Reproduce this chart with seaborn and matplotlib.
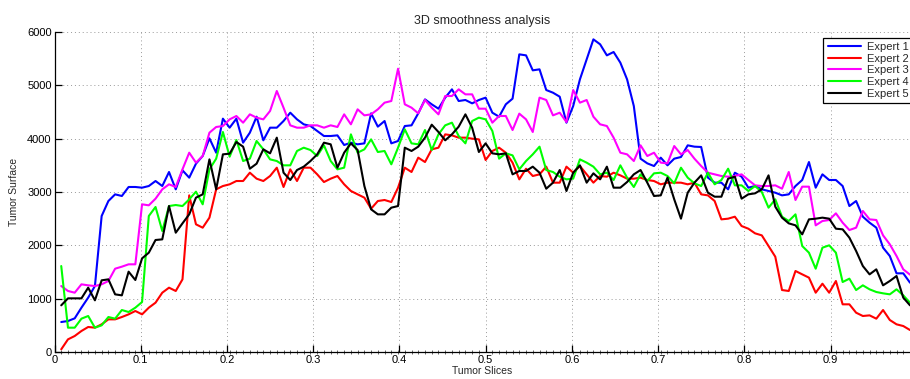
import numpy as np
import pandas as pd
import matplotlib
matplotlib.use("Agg")
import matplotlib.pyplot as plt
import seaborn as sns

# slice index 1..127, shown as fraction of 128 slices
slice_idx = np.arange(1, 128)
n_slices = 128

expert1 = [562, 581, 631, 831, 1019, 1237, 2550, 2831, 2956, 2925, 3094, 3094, 3081, 3112, 3206, 3112,
           3375, 3050, 3406, 3269, 3531, 3675, 4006, 3737,
           4375, 4206, 4375, 3925, 4112, 4412, 3969, 4206, 4206, 4331, 4487, 4362, 4269, 4237, 4144, 4050,
           4050, 4062, 3881, 3925, 3894, 3912, 4475, 4225, 4331, 3912, 3956,
           4237, 4250, 4475, 4737, 4644, 4562, 4769, 4925, 4706, 4725, 4662, 4725, 4769, 4487, 4412, 4644,
           4750, 5581, 5562, 5281, 5300, 4912, 4862, 4787, 4300,
           4612, 5112, 5487, 5862, 5769, 5562, 5625, 5425, 5112, 4612, 3625, 3537, 3487, 3644, 3500, 3625,
           3656, 3875, 3850, 3844, 3269, 3175, 3175, 3050, 3362,
           3287, 3081, 3112, 3050, 3019, 2987, 2937, 2956, 3112, 3225, 3562, 3081, 3331, 3225, 3225, 3112,
           2737, 2831, 2537, 2425, 2331, 1956, 1800, 1475, 1475, 1300]

expert2 = [50, 237, 300, 394, 469, 456, 519, 612, 612, 656, 706, 769, 706, 831, 925, 1112, 1206, 1144,
           1362, 2937, 2394, 2331, 2519, 3050,
           3112, 3144, 3206, 3206, 3362, 3250, 3206, 3300, 3456, 3094, 3425, 3206, 3456, 3456, 3331, 3187,
           3250, 3300, 3144, 3019, 2956, 2894, 2687, 2831, 2850, 2812, 3081,
           3456, 3375, 3644, 3562, 3800, 3831, 4081, 4062, 4019, 4019, 4000, 3987, 3600, 3769, 3831, 3737,
           3550, 3237, 3437, 3300, 3331, 3475, 3175, 3175, 3475,
           3362, 3487, 3331, 3175, 3300, 3287, 3362, 3312, 3250, 3250, 3269, 3225, 3206, 3144, 3175, 3175,
           3175, 3144, 3175, 2956, 2937, 2831, 2487, 2500, 2537,
           2362, 2312, 2225, 2187, 1987, 1787, 1162, 1144, 1519, 1456, 1394, 1112, 1281, 1112, 1331, 894,
           894, 737, 675, 687, 625, 787, 600, 519, 487, 412]

expert3 = [1237, 1144, 1112, 1269, 1250, 1237, 1269, 1331, 1562, 1600, 1644, 1644, 2769, 2750, 2875, 3050,
           3144, 3094, 3425, 3737, 3550, 3675, 4112, 4219,
           4237, 4362, 4425, 4300, 4456, 4394, 4362, 4519, 4894, 4581, 4250, 4206, 4206, 4250, 4250, 4206,
           4250, 4219, 4456, 4269, 4550, 4437, 4456, 4550, 4675, 4706, 5312,
           4644, 4581, 4475, 4725, 4581, 4456, 4800, 4800, 4925, 4831, 4831, 4562, 4562, 4300, 4425, 4425,
           4162, 4469, 4362, 4125, 4769, 4725, 4437, 4487, 4312,
           4912, 4675, 4725, 4412, 4269, 4237, 4019, 3737, 3706, 3581, 3875, 3675, 3737, 3550, 3537, 3862,
           3706, 3787, 3625, 3487, 3362, 3331, 3300, 3287, 3300,
           3331, 3225, 3125, 3112, 3112, 3125, 3062, 3375, 2850, 3100, 3100, 2375, 2456, 2475, 2600, 2425,
           2287, 2331, 2644, 2487, 2475, 2187, 2019, 1800, 1550, 1450]

expert4 = [1612, 456, 456, 625, 675, 456, 500, 656, 625, 787, 750, 831, 937, 2550, 2719, 2269, 2737, 2756,
           2737, 2862, 3006, 2769, 3425, 3625,
           4125, 3662, 3975, 3581, 3625, 3956, 3800, 3612, 3581, 3500, 3500, 3769, 3831, 3787, 3675, 3875,
           3581, 3425, 3456, 4081, 3737, 3800, 3987, 3750, 3769, 3519, 3831,
           4175, 3912, 3894, 4162, 3787, 4081, 4250, 4300, 4050, 3912, 4331, 4394, 4362, 4144, 3625, 3725,
           3687, 3425, 3581, 3706, 3850, 3412, 3375, 3287, 3237,
           3250, 3612, 3550, 3475, 3331, 3362, 3225, 3500, 3269, 3094, 3331, 3206, 3350, 3362, 3300, 3162,
           3456, 3269, 3162, 3112, 3362, 3144, 3225, 3437, 3125,
           3125, 3019, 3112, 3000, 2706, 2862, 2537, 2456, 2581, 1987, 1862, 1562, 1956, 2000, 1862, 1312,
           1375, 1162, 1250, 1175, 1125, 1100, 1081, 1175, 1062, 925]

expert5 = [875, 1006, 1006, 1006, 1206, 969, 1344, 1362, 1081, 1062, 1506, 1350, 1756, 1862, 2100, 2112,
           2737, 2237, 2412, 2581, 2894, 2956, 3612, 3050,
           3706, 3719, 3937, 3850, 3437, 3531, 3800, 3725, 4019, 3362, 3225, 3412, 3475, 3581, 3706, 3925,
           3894, 3456, 3737, 3912, 3787, 3112, 2675, 2581, 2581, 2706, 2737,
           3831, 3769, 3850, 4019, 4262, 4125, 3969, 4081, 4225, 4456, 4206, 3750, 3912, 3725, 3706, 3725,
           3331, 3394, 3394, 3475, 3362, 3062, 3175, 3412, 3019,
           3362, 3500, 3175, 3350, 3237, 3475, 3081, 3081, 3187, 3331, 3412, 3175, 2925, 2937, 3269, 2862,
           2500, 2987, 3175, 3312, 2987, 2912, 2912, 3250, 3287,
           2875, 2956, 2975, 3050, 3312, 2725, 2519, 2412, 2375, 2206, 2487, 2500, 2519, 2500, 2312, 2300,
           2144, 1894, 1612, 1456, 1550, 1250, 1331, 1425, 1019, 875]

experts = ["Expert 1", "Expert 2", "Expert 3", "Expert 4", "Expert 5"]
colors = ["#0000ff", "#ff0000", "#ff00ff", "#00ff00", "#000000"]

x = slice_idx / n_slices
df = pd.concat([pd.DataFrame({"slice": x, "surface": vals, "expert": name})
                for name, vals in zip(experts, [expert1, expert2, expert3, expert4, expert5])])

sns.set_style("ticks")
plt.rcParams["font.family"] = ["Liberation Sans", "DejaVu Sans"]

fig = plt.figure(figsize=(9.1, 3.79), dpi=100)
ax = fig.add_axes([54.5 / 910, 27 / 379, 855.5 / 910, 320 / 379])

sns.lineplot(data=df, x="slice", y="surface", hue="expert", palette=colors,
             linewidth=1.5, ax=ax, legend=True)

ax.set_xlim(0, 127 / 128)
ax.set_ylim(0, 6000)
ax.set_xticks(np.arange(0, 1.0, 0.1))
ax.set_xticklabels(["0"] + [f"{v:.1f}" for v in np.arange(0.1, 1.0, 0.1)])
ax.set_yticks(np.arange(0, 6001, 1000))
ax.set_xticks(x, minor=True)
ax.tick_params(axis="both", which="major", direction="in", length=5, width=0.9,
               labelsize=8, pad=2, colors="black")
ax.tick_params(axis="x", which="minor", direction="inout", length=3, width=0.7, color="#666666")
ax.grid(True, which="major", linestyle=(0, (1, 3)), color="#999999", linewidth=0.7)

for side in ["top", "right"]:
    ax.spines[side].set_visible(False)
for side in ["left", "bottom"]:
    ax.spines[side].set_linewidth(0.9)
    ax.spines[side].set_color("black")

ax.set_title("3D smoothness analysis", fontsize=9, pad=6)
ax.set_xlabel("Tumor Slices", fontsize=7.5, labelpad=1)
ax.set_ylabel("Tumor Surface", fontsize=7.5, labelpad=6)

leg = ax.legend(loc="upper right", bbox_to_anchor=(1.01, 1.0), fontsize=8, frameon=True,
                fancybox=False, framealpha=1, edgecolor="black", handlelength=3.0,
                labelspacing=0.15, borderpad=0.4, handletextpad=0.5, title=None)
leg.get_frame().set_linewidth(0.9)

fig.savefig("out.png", dpi=100)
